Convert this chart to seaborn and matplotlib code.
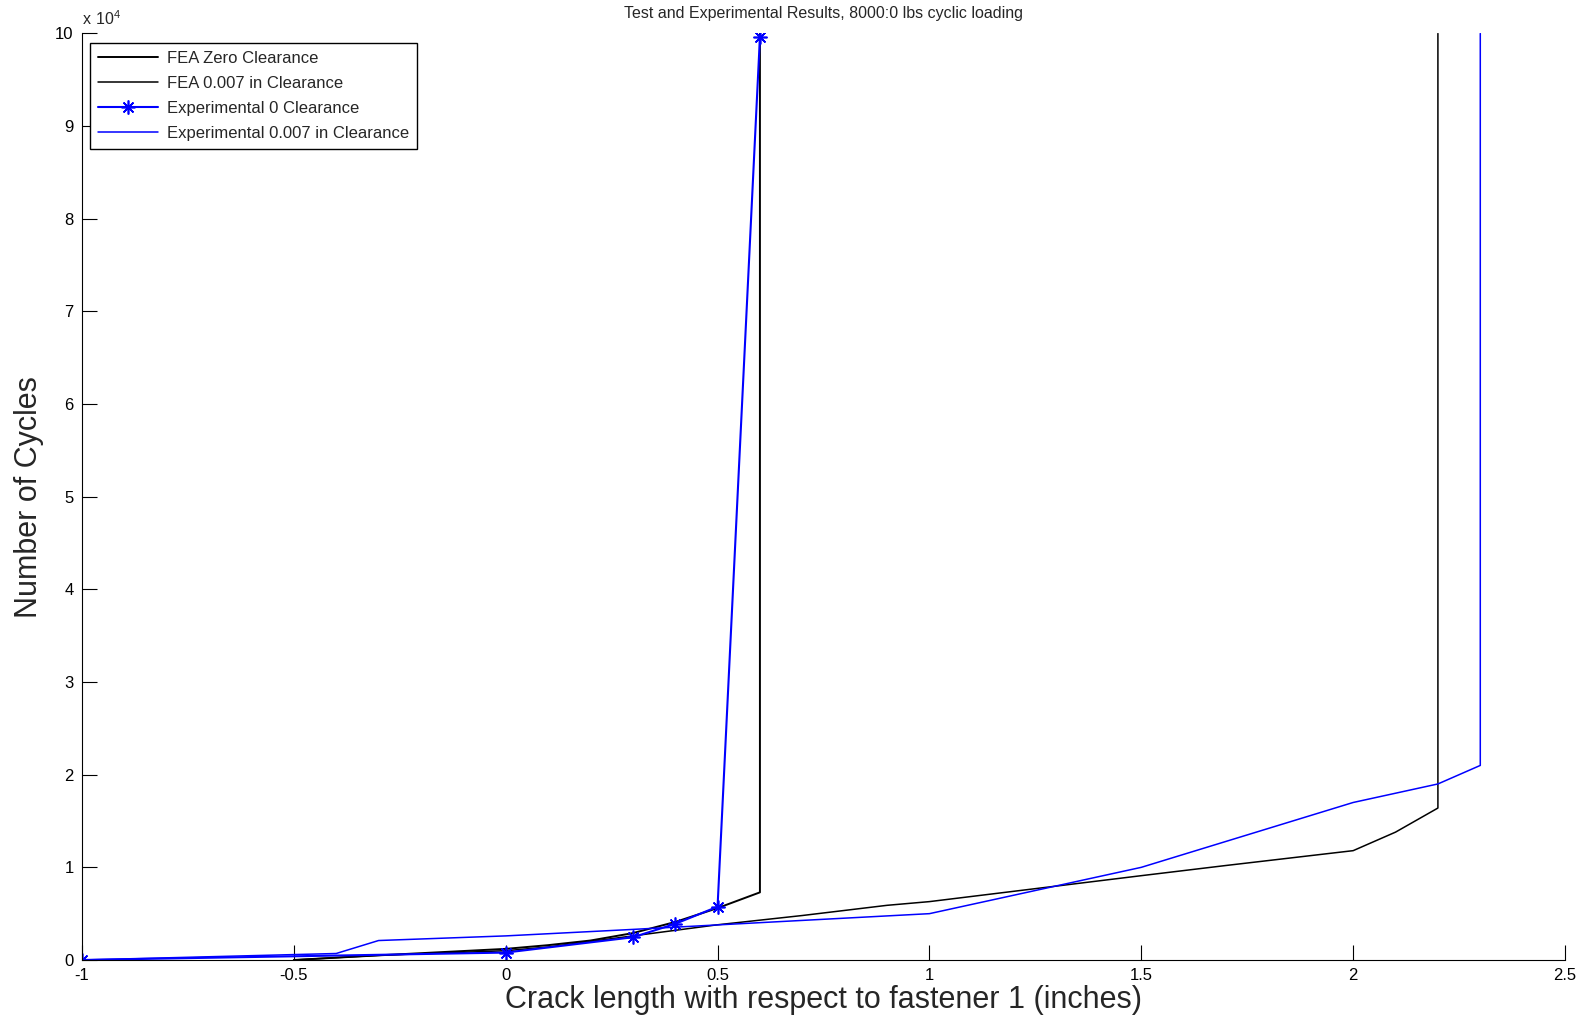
import numpy as np
import pandas as pd
import matplotlib
matplotlib.use("Agg")
import matplotlib.pyplot as plt
import seaborn as sns

# crack length (inches) vs number of cycles
fea_zero_x = [-0.5, -0.3, 0.0, 0.1, 0.2, 0.3, 0.4, 0.5, 0.6, 0.6]
fea_zero_y = [0, 500, 1200, 1600, 2100, 2900, 4100, 5600, 7300, 100000]

fea_007_x = [-0.5, -0.3, 0.0, 0.1, 0.3, 0.5, 0.7, 0.9, 1.0, 1.5, 1.7, 2.0, 2.1, 2.2, 2.2]
fea_007_y = [0, 500, 1000, 1400, 2600, 3800, 4800, 5900, 6300, 9100, 10200, 11800, 13800, 16400, 100000]

exp_zero_x = [-1.0, 0.0, 0.3, 0.4, 0.5, 0.6]
exp_zero_y = [0, 800, 2450, 3900, 5750, 99600]

exp_007_x = [-1.0, -0.4, -0.3, 0.0, 0.3, 1.0, 1.5, 2.0, 2.2, 2.3, 2.3]
exp_007_y = [0, 700, 2100, 2600, 3300, 5000, 10000, 17000, 19000, 21000, 100000]

x_ticks = [-1, -0.5, 0, 0.5, 1, 1.5, 2, 2.5]
x_tick_labels = ["-1", "-0.5", "0", "0.5", "1", "1.5", "2", "2.5"]
y_ticks = list(range(0, 100001, 10000))
y_tick_labels = [str(i) for i in range(11)]

sns.set_style("ticks")
plt.rcParams["font.family"] = ["Liberation Sans", "DejaVu Sans"]

fig = plt.figure(figsize=(15.85, 10.15), dpi=100)
ax = fig.add_axes([0.0517, 0.0542, 0.9357, 0.9128])

asterisk = (8, 2, 0)  # matlab-style '*' marker
series = [
    ("FEA Zero Clearance", fea_zero_x, fea_zero_y, "black", 1.4, None),
    ("FEA 0.007 in Clearance", fea_007_x, fea_007_y, "black", 1.1, None),
    ("Experimental 0 Clearance", exp_zero_x, exp_zero_y, "blue", 1.5, asterisk),
    ("Experimental 0.007 in Clearance", exp_007_x, exp_007_y, "blue", 1.1, None),
]

for name, xs, ys, col, lw, mk in series:
    df = pd.DataFrame({"x": xs, "y": ys})
    sns.lineplot(data=df, x="x", y="y", ax=ax, sort=False, estimator=None,
                 color=col, linewidth=lw, marker=mk, markersize=10,
                 markeredgecolor=col, markeredgewidth=1.2, label=name)

ax.set_xlim(-1, 2.5)
ax.set_ylim(0, 100000)
ax.set_xticks(x_ticks)
ax.set_xticklabels(x_tick_labels)
ax.set_yticks(y_ticks)
ax.set_yticklabels(y_tick_labels)
ax.tick_params(direction="in", length=11, width=0.8, labelsize=12, colors="black", pad=6)

sns.despine(ax=ax)
for s in ["left", "bottom"]:
    ax.spines[s].set_color("black")
    ax.spines[s].set_linewidth(0.8)

ax.set_xlabel("Crack length with respect to fastener 1 (inches)", fontsize=22, labelpad=1)
ax.set_ylabel("Number of Cycles", fontsize=22, labelpad=8)
ax.set_title("Test and Experimental Results, 8000:0 lbs cyclic loading", fontsize=11.5, pad=11)
ax.text(0.0, 1.006, r"$\mathregular{x\ 10^4}$", transform=ax.transAxes,
        fontsize=11.5, ha="left", va="bottom")

leg = ax.legend(loc="upper left", bbox_to_anchor=(0.0054, 0.99), borderaxespad=0,
                fontsize=12, frameon=True, fancybox=False, handlelength=3.6,
                labelspacing=0.6, borderpad=0.5, handletextpad=0.5)
leg.get_frame().set_edgecolor("black")
leg.get_frame().set_linewidth(1.0)
leg.get_frame().set_alpha(1)

fig.savefig("out.png", dpi=100)
